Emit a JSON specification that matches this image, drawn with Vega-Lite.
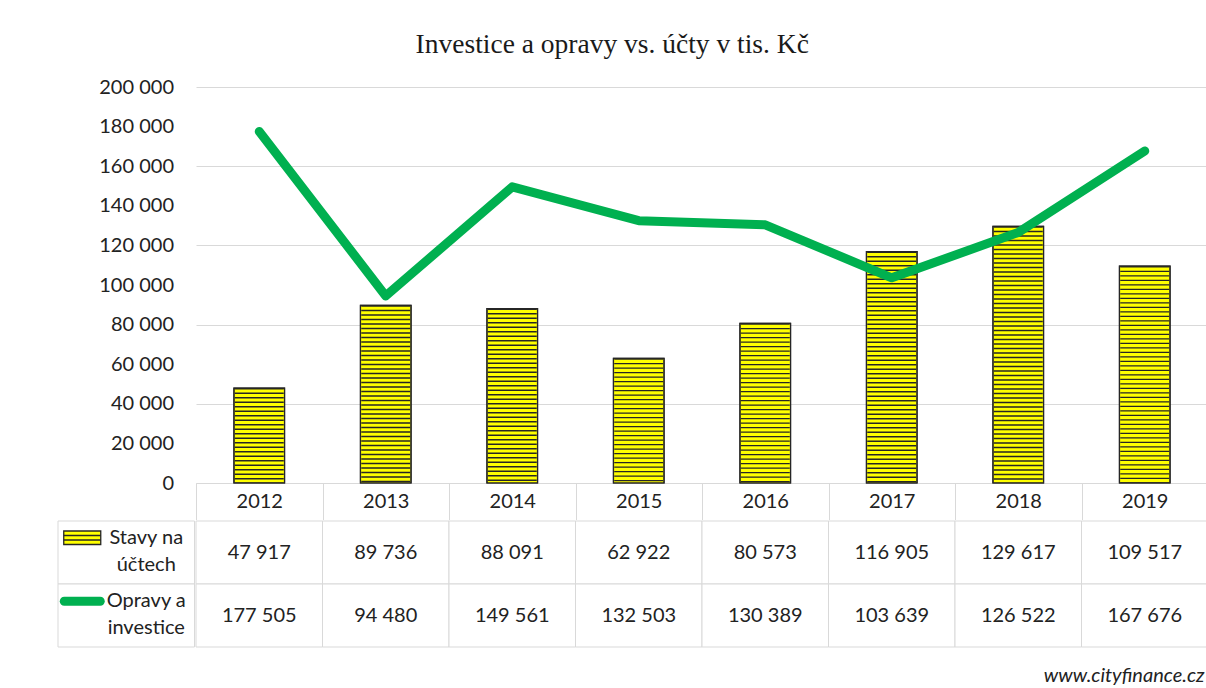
{
  "$schema": "https://vega.github.io/schema/vega-lite/v6.json",
  "background": "white",
  "padding": {"left": 57, "top": 30, "right": 0, "bottom": 6},
  "datasets": {
    "main": [
      {"year": "2012", "stavy": 47917, "opravy": 177505},
      {"year": "2013", "stavy": 89736, "opravy": 94480},
      {"year": "2014", "stavy": 88091, "opravy": 149561},
      {"year": "2015", "stavy": 62922, "opravy": 132503},
      {"year": "2016", "stavy": 80573, "opravy": 130389},
      {"year": "2017", "stavy": 116905, "opravy": 103639},
      {"year": "2018", "stavy": 129617, "opravy": 126522},
      {"year": "2019", "stavy": 109517, "opravy": 167676}
    ],
    "labels": [
      {"key": "stavy", "label": "Stavy na\núčtech"},
      {"key": "opravy", "label": "Opravy a\ninvestice"}
    ]
  },
  "title": {
    "text": "www.cityfinance.cz",
    "orient": "bottom",
    "anchor": "end",
    "frame": "bounds",
    "font": "Lato",
    "fontStyle": "italic",
    "fontWeight": "normal",
    "fontSize": 20,
    "color": "#222222",
    "offset": 18,
    "dx": -4
  },
  "spacing": 0,
  "vconcat": [
    {
      "title": {
        "text": "Investice a opravy vs. účty v tis. Kč",
        "font": "Liberation Serif",
        "fontSize": 27.5,
        "fontWeight": "normal",
        "color": "#1a1a1a",
        "anchor": "middle",
        "frame": "bounds",
        "dx": -21,
        "offset": 19
      },
      "spacing": 0,
      "hconcat": [
        {
          "width": 136.5,
          "height": 396,
          "data": {"name": "main"},
          "mark": {"type": "tick", "opacity": 0},
          "encoding": {
            "y": {
              "field": "opravy",
              "type": "quantitative",
              "scale": {"domain": [0, 200000]},
              "axis": {
                "title": null,
                "orient": "left",
                "offset": -136.5,
                "values": [0, 20000, 40000, 60000, 80000, 100000, 120000, 140000, 160000, 180000, 200000],
                "format": ",d",
                "labelFont": "Lato",
                "labelFontSize": 20,
                "labelColor": "#222222",
                "labelOverlap": false,
                "grid": false,
                "domain": false,
                "ticks": false,
                "labelPadding": 21,
                "minExtent": 0,
                "maxExtent": 300
              }
            }
          }
        },
        {
          "width": 1012,
          "height": 396,
          "data": {"name": "main"},
          "encoding": {
            "x": {
              "field": "year",
              "type": "ordinal",
              "scale": {"paddingInner": 0, "paddingOuter": 0},
              "axis": {
                "title": null,
                "labelAngle": 0,
                "labelFont": "Lato",
                "labelFontSize": 20,
                "labelColor": "#222222",
                "tickBand": "extent",
                "tickSize": 36.5,
                "tickColor": "#d9d9d9",
                "tickWidth": 1,
                "domainColor": "#d9d9d9",
                "labelPadding": -28,
                "grid": false
              }
            }
          },
          "layer": [
            {
              "mark": {"type": "bar", "fill": "#FFFF00", "stroke": "#262626", "strokeWidth": 1.2, "width": {"band": 0.4}},
              "encoding": {
                "y": {
                  "field": "stavy",
                  "type": "quantitative",
                  "scale": {"domain": [0, 200000]},
                  "axis": {
                    "title": null,
                    "values": [0, 20000, 40000, 60000, 80000, 100000, 120000, 140000, 160000, 180000, 200000],
                    "labels": false,
                    "grid": true,
                    "gridColor": "#d9d9d9",
                    "gridWidth": 1,
                    "domain": false,
                    "ticks": false,
                    "minExtent": 0,
                    "maxExtent": 0
                  }
                }
              }
            },
            {
              "mark": {"type": "rule", "color": "#262626", "strokeWidth": 49, "strokeDash": [1.4, 3.1]},
              "encoding": {
                "y": {"field": "stavy", "type": "quantitative"},
                "y2": {"datum": 0}
              }
            },
            {
              "mark": {"type": "bar", "fillOpacity": 0, "stroke": "#262626", "strokeWidth": 1.2, "width": {"band": 0.4}},
              "encoding": {"y": {"field": "stavy", "type": "quantitative"}}
            },
            {
              "mark": {"type": "line", "color": "#00B050", "strokeWidth": 9, "strokeCap": "round", "strokeJoin": "round"},
              "encoding": {"y": {"field": "opravy", "type": "quantitative"}}
            }
          ]
        }
      ]
    },
    {
      "spacing": 0,
      "hconcat": [
        {
          "width": 136.5,
          "height": 126,
          "data": {"name": "labels"},
          "encoding": {
            "y": {
              "field": "key",
              "type": "nominal",
              "axis": null,
              "scale": {"domain": ["stavy", "opravy"], "paddingInner": 0, "paddingOuter": 0}
            }
          },
          "layer": [
            {"mark": {"type": "rect", "fill": "white", "stroke": "#d9d9d9", "strokeWidth": 1}},
            {
              "mark": {"type": "text", "font": "Lato", "fontSize": 20, "color": "#222222", "lineBreak": "\n", "lineHeight": 27, "dx": 20, "dy": -14.5},
              "encoding": {"text": {"field": "label"}}
            },
            {
              "transform": [{"filter": "datum.key == 'stavy'"}],
              "mark": {"type": "tick", "orient": "horizontal", "size": 37, "thickness": 13.5, "fill": "#FFFF00", "stroke": "#262626", "strokeWidth": 1.3, "opacity": 1, "xOffset": -44, "yOffset": -14.75}
            },
            {
              "transform": [{"filter": "datum.key == 'stavy'"}],
              "mark": {"type": "tick", "orient": "horizontal", "size": 37, "thickness": 1.3, "color": "#262626", "opacity": 1, "xOffset": -44, "yOffset": -17}
            },
            {
              "transform": [{"filter": "datum.key == 'stavy'"}],
              "mark": {"type": "tick", "orient": "horizontal", "size": 37, "thickness": 1.3, "color": "#262626", "opacity": 1, "xOffset": -44, "yOffset": -12.5}
            },
            {
              "transform": [{"filter": "datum.key == 'opravy'"}],
              "mark": {"type": "tick", "orient": "horizontal", "size": 45, "thickness": 9, "color": "#00B050", "opacity": 1, "cornerRadius": 4.5, "xOffset": -44, "yOffset": -14.25}
            }
          ]
        },
        {
          "width": 1012,
          "height": 126,
          "data": {"name": "main"},
          "transform": [{"fold": ["stavy", "opravy"], "as": ["key", "value"]}],
          "encoding": {
            "x": {"field": "year", "type": "ordinal", "axis": null, "scale": {"paddingInner": 0, "paddingOuter": 0}},
            "y": {"field": "key", "type": "nominal", "axis": null, "scale": {"domain": ["stavy", "opravy"], "paddingInner": 0, "paddingOuter": 0}}
          },
          "layer": [
            {"mark": {"type": "rect", "fill": "white", "stroke": "#d9d9d9", "strokeWidth": 1}},
            {
              "mark": {"type": "text", "font": "Lato", "fontSize": 20, "color": "#222222"},
              "encoding": {"text": {"field": "value", "type": "quantitative", "format": ",d"}}
            }
          ]
        }
      ]
    }
  ],
  "config": {
    "view": {"stroke": null},
    "font": "Lato",
    "locale": {"number": {"decimal": ",", "thousands": " ", "grouping": [3], "currency": ["", " Kč"]}}
  }
}
